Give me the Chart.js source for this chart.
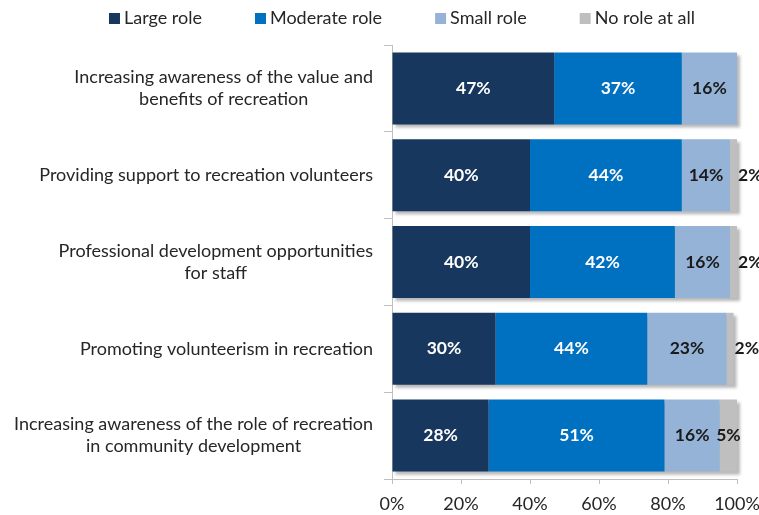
<!DOCTYPE html>
<html>
<head>
<meta charset="utf-8">
<script src="https://cdn.jsdelivr.net/npm/chart.js@4/dist/chart.umd.min.js"></script>
<style>
  html, body { margin: 0; padding: 0; background: #ffffff; }
  #wrap { width: 759px; height: 515px; position: relative; }
</style>
</head>
<body>
<div id="wrap"><canvas id="c" width="759" height="515"></canvas></div>
<script>
// ---- DATA ----
const categories = [
  ["Increasing awareness of the value and", "benefits of recreation"],
  ["Providing support to recreation volunteers"],
  ["Professional development opportunities", "for staff"],
  ["Promoting volunteerism in recreation"],
  ["Increasing awareness of the role of recreation", "in community development"]
];
const seriesNames = ["Large role", "Moderate role", "Small role", "No role at all"];
const largeRole    = [47, 40, 40, 30, 28];
const moderateRole = [37, 44, 42, 44, 51];
const smallRole    = [16, 14, 16, 23, 16];
const noRole       = [null, 2, 2, 2, 5];
const xTicks = [0, 20, 40, 60, 80, 100];

// ---- STYLE ----
const colors = ["#17375E", "#0070C0", "#95B3D7", "#BFBFBF"];
const labelColors = ["#FFFFFF", "#FFFFFF", "#1A1A1A", "#1A1A1A"];
const FONT = "Lato, 'Liberation Sans', sans-serif";
const textColor = "#262626";

// soft drop shadow behind each whole stacked bar (positions taken from the bar elements)
const shadowPlugin = {
  id: 'barShadow',
  beforeDatasetsDraw(chart) {
    const ctx = chart.ctx;
    const n = chart.data.labels.length;
    ctx.save();
    ctx.fillStyle = 'rgba(0,0,0,0.28)';
    ctx.filter = 'blur(1.5px)';
    for (let i = 0; i < n; i++) {
      let l = Infinity, r = -Infinity, t = Infinity, b = -Infinity;
      chart.data.datasets.forEach((ds, di) => {
        const el = chart.getDatasetMeta(di).data[i];
        if (!el || ds.data[i] === null || ds.data[i] === undefined) return;
        l = Math.min(l, el.x, el.base);
        r = Math.max(r, el.x, el.base);
        t = Math.min(t, el.y - el.height / 2);
        b = Math.max(b, el.y + el.height / 2);
      });
      if (isFinite(l)) ctx.fillRect(l + 3, t + 3, r - l, b - t);
    }
    ctx.restore();
  }
};

const valueLabelPlugin = {
  id: 'valueLabels',
  afterDatasetsDraw(chart) {
    const ctx = chart.ctx;
    ctx.save();
    ctx.font = "bold 17.5px " + FONT;
    ctx.textBaseline = 'middle';
    chart.data.datasets.forEach((ds, di) => {
      const meta = chart.getDatasetMeta(di);
      meta.data.forEach((el, i) => {
        const v = ds.data[i];
        if (v === null || v === undefined) return;
        const w = Math.abs(el.x - el.base);
        ctx.fillStyle = labelColors[di];
        if (w < 10) {
          ctx.textAlign = 'left';
          ctx.fillStyle = '#1A1A1A';
          ctx.fillText(v + '%', Math.max(el.x, el.base) + 1, el.y);
        } else {
          ctx.textAlign = 'center';
          ctx.fillText(v + '%', (el.x + el.base) / 2, el.y);
        }
      });
    });
    ctx.restore();
  }
};

const yLabelPlugin = {
  id: 'yLabels',
  afterDraw(chart) {
    const ctx = chart.ctx;
    const ys = chart.scales.y;
    const right = chart.chartArea.left - 19;
    ctx.save();
    ctx.font = "18px " + FONT;
    ctx.fillStyle = textColor;
    ctx.textAlign = 'center';
    ctx.textBaseline = 'middle';
    categories.forEach((lines, i) => {
      const cy = ys.getPixelForValue(i);
      let bw = 0;
      lines.forEach(l => { bw = Math.max(bw, ctx.measureText(l).width); });
      const cx = right - bw / 2;
      const lh = 22;
      lines.forEach((l, k) => {
        ctx.fillText(l, cx, cy + (k - (lines.length - 1) / 2) * lh);
      });
    });
    ctx.restore();
  }
};

const legendPlugin = {
  id: 'topLegend',
  afterDraw(chart) {
    const ctx = chart.ctx;
    ctx.save();
    ctx.font = "18px " + FONT;
    ctx.textBaseline = 'middle';
    ctx.textAlign = 'left';
    const box = 11, gap = 4, itemGap = 53;
    const labels = chart.data.datasets.map(d => d.label);
    const widths = labels.map(t => box + gap + ctx.measureText(t).width);
    const total = widths.reduce((a, b) => a + b, 0) + itemGap * (labels.length - 1);
    let x = 402 - total / 2;
    const cy = 18.5;
    labels.forEach((t, i) => {
      ctx.fillStyle = chart.data.datasets[i].backgroundColor;
      ctx.fillRect(x, cy - box / 2, box, box);
      ctx.fillStyle = textColor;
      ctx.fillText(t, x + box + gap, cy);
      x += widths[i] + itemGap;
    });
    ctx.restore();
  }
};

const seriesData = [largeRole, moderateRole, smallRole, noRole];

new Chart(document.getElementById('c'), {
  type: 'bar',
  data: {
    labels: categories,
    datasets: seriesData.map((d, i) => ({
      label: seriesNames[i],
      data: d,
      backgroundColor: colors[i],
      borderWidth: 0,
      barPercentage: 0.83,
      categoryPercentage: 1.0
    }))
  },
  options: {
    indexAxis: 'y',
    responsive: false,
    animation: false,
    devicePixelRatio: 1,
    layout: { padding: { top: 45, right: 22, bottom: 0, left: 0 } },
    plugins: {
      legend: { display: false },
      tooltip: { enabled: false }
    },
    scales: {
      x: {
        stacked: true,
        min: 0,
        max: 100,
        afterBuildTicks(scale) { scale.ticks = xTicks.map(v => ({ value: v })); },
        afterFit(scale) { scale.paddingLeft = 0; scale.paddingRight = 0; scale.height = 36; },
        ticks: {
          callback: v => v + '%',
          color: textColor,
          font: { family: FONT, size: 18 },
          padding: 9,
          maxRotation: 0
        },
        grid: { drawOnChartArea: false, drawTicks: true, tickLength: 5, color: '#BFBFBF' },
        border: { display: true, color: '#BFBFBF' }
      },
      y: {
        stacked: true,
        offset: true,
        ticks: { display: false },
        grid: { offset: true, drawOnChartArea: false, drawTicks: true, tickLength: 8, color: '#BFBFBF' },
        border: { display: true, color: '#BFBFBF' },
        afterFit(scale) { scale.width = 392; }
      }
    }
  },
  plugins: [shadowPlugin, valueLabelPlugin, yLabelPlugin, legendPlugin]
});
</script>
</body>
</html>
